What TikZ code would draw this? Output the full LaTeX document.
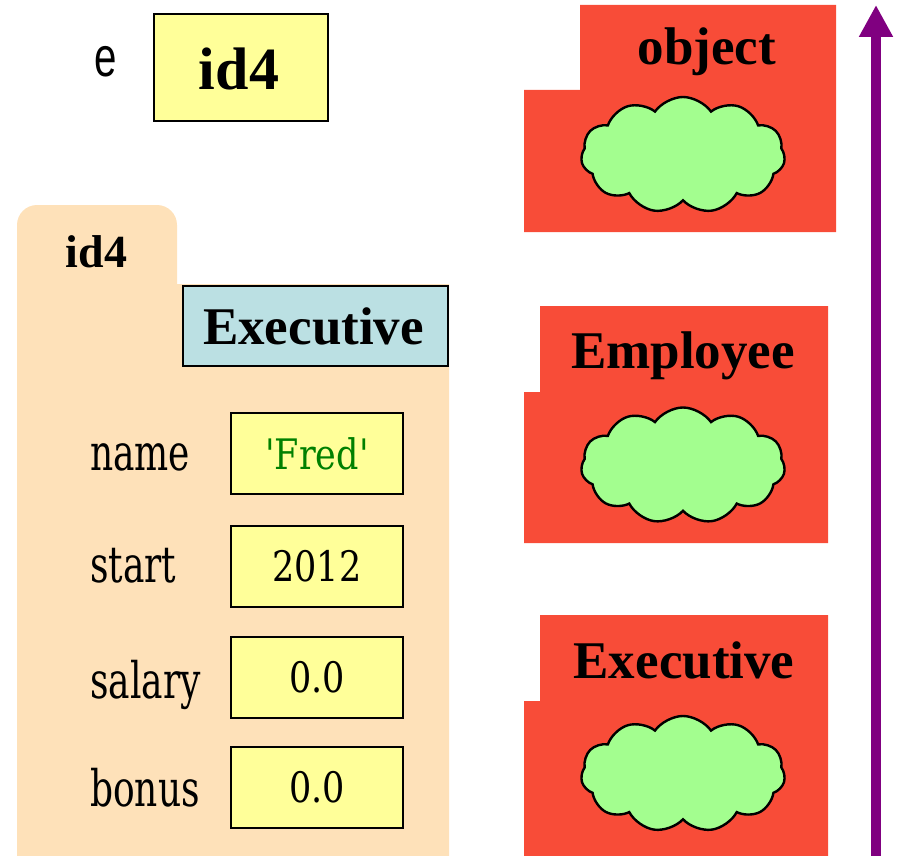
\documentclass[tikz,border=0pt]{standalone}
\usepackage{fontspec}
\setmainfont{Liberation Serif}
\newfontfamily\sansf{Liberation Sans}
\newfontfamily\slabf{DejaVu Serif}
\usetikzlibrary{shapes.symbols,arrows.meta}
\definecolor{beige}{RGB}{254,225,185}
\definecolor{valyellow}{RGB}{255,255,153}
\definecolor{clsblue}{RGB}{187,224,227}
\definecolor{clsred}{RGB}{248,76,56}
\definecolor{cloudgreen}{RGB}{163,254,143}
\definecolor{strgreen}{RGB}{0,128,0}
\definecolor{arrowpurple}{RGB}{128,0,128}
\newcommand{\valtext}[1]{\scalebox{1}[1.2]{\slabf\fontsize{35}{40}\selectfont #1}}
\newcommand{\labtext}[1]{\scalebox{1}[1.4]{\slabf\fontsize{36}{40}\selectfont #1}}
\begin{document}
\begin{tikzpicture}[x=1pt,y=-1pt,
  valbox/.style={draw=black,line width=2pt,fill=valyellow,minimum width=172pt,minimum height=81pt,inner sep=0pt},
  fieldlabel/.style={anchor=base west,inner sep=0pt},
  boldtitle/.style={anchor=base,inner sep=0pt,font=\bfseries\fontsize{53}{60}\selectfont},
  redpart/.style={fill=clsred},
  cloudnode/.style={cloud,cloud puffs=11,cloud puff arc=110,cloud ignores aspect,draw=black,line width=2.4pt,fill=cloudgreen,minimum width=204pt,minimum height=116pt,inner sep=0pt}
]
\useasboundingbox (0,0) rectangle (897,856);

% variable e
\node[anchor=base,inner sep=0pt] (evar) at (106,77) {\scalebox{0.72}[1]{\sansf\fontsize{56}{60}\selectfont e}};
\node[draw=black,line width=2pt,fill=valyellow,minimum width=174pt,minimum height=107pt,inner sep=0pt] (ebox) at (241,67.5) {};
\node[anchor=base,inner sep=0pt,font=\bfseries\fontsize{60}{66}\selectfont] (etext) at (239,90) {id4};

% folder
\path[fill=beige] (17,284) -- (17,225) arc[start angle=180,end angle=270,radius=20] -- (157,205)
  arc[start angle=270,end angle=360,radius=20] -- (177,284) -- (449,284) -- (449,856) -- (17,856) -- cycle;
\node[anchor=base,inner sep=0pt,font=\bfseries\fontsize{46}{50}\selectfont] (tabid) at (96.5,267) {id4};
\node[draw=black,line width=2pt,fill=clsblue,minimum width=265pt,minimum height=80pt,inner sep=0pt] (clsbox) at (315.5,326) {};
\node[boldtitle] (clstext) at (313.5,344) {Executive};

% fields
\node[fieldlabel] (lname) at (90,470) {\labtext{name}};
\node[fieldlabel] (lstart) at (90,582) {\labtext{start}};
\node[fieldlabel] (lsalary) at (90,698) {\labtext{salary}};
\node[fieldlabel] (lbonus) at (90,806) {\labtext{bonus}};
\node[valbox] (vname) at (317,453.5) {\color{strgreen}\valtext{'Fred'}};
\node[valbox] (vstart) at (317,566.5) {\valtext{2012}};
\node[valbox] (vsalary) at (317,677.5) {\valtext{0.0}};
\node[valbox] (vbonus) at (317,787.5) {\valtext{0.0}};

% class object
\path[redpart] (580,5) -- (836,5) -- (836,232) -- (524,232) -- (524,90) -- (580,90) -- cycle;
\node[boldtitle] (tobject) at (707,65) {object};
\node[cloudnode] (cobject) at (683,155) {};

% class Employee
\path[redpart] (540,306) -- (828,306) -- (828,543) -- (524,543) -- (524,392) -- (540,392) -- cycle;
\node[boldtitle] (temployee) at (683,368) {Employee};
\node[cloudnode] (cemployee) at (683,465.5) {};

% class Executive
\path[redpart] (540,615) -- (828,615) -- (828,856) -- (524,856) -- (524,701) -- (540,701) -- cycle;
\node[boldtitle] (texecutive) at (684,678) {Executive};
\node[cloudnode] (cexecutive) at (683,774) {};

% arrow
\coordinate (abot) at (876,856);
\coordinate (atop) at (876,5);
\draw[arrowpurple,line width=10pt,-{Triangle[width=32pt,length=32pt]}] (abot) -- (atop);
\end{tikzpicture}
\end{document}
